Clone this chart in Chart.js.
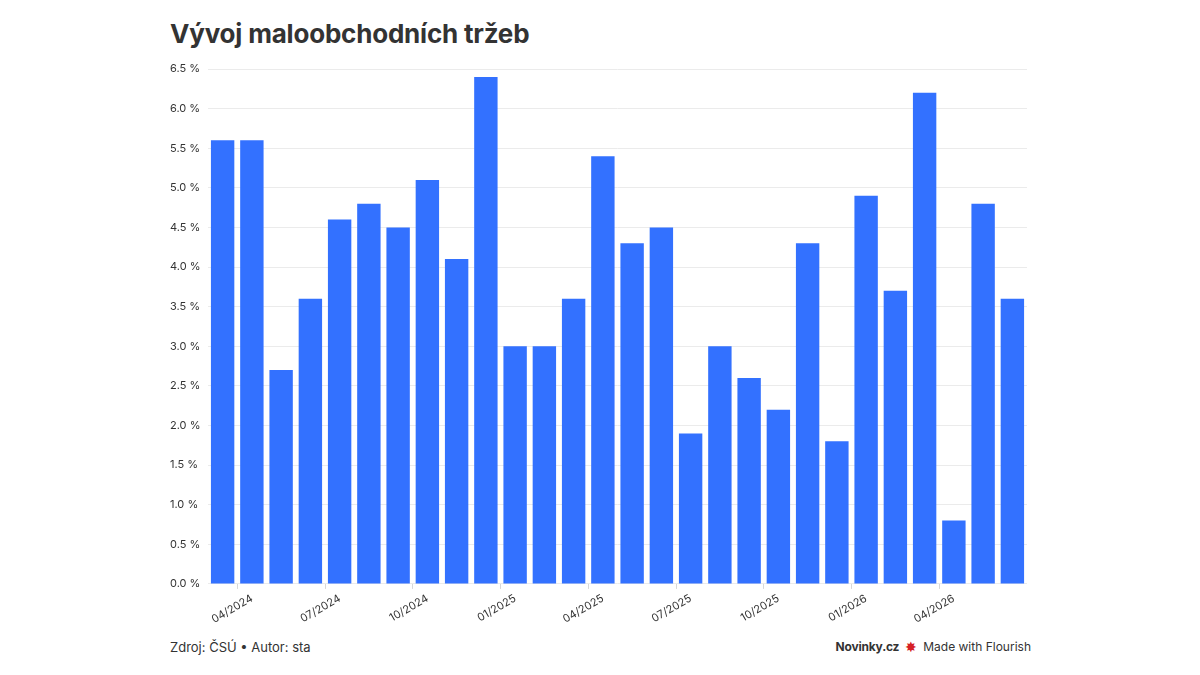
<!DOCTYPE html>
<html lang="cs">
<head>
<meta charset="utf-8">
<script src="https://cdn.jsdelivr.net/npm/chart.js@4.4.1/dist/chart.umd.min.js"></script>
<style>
  html, body { margin: 0; padding: 0; background: #fff; }
  body { width: 1200px; height: 675px; position: relative; overflow: hidden; font-family: Inter, 'Noto Sans', sans-serif; color: #333; }
  h1 { position: absolute; left: 170px; top: 18px; margin: 0; font-size: 26px; font-weight: 700; color: #333; letter-spacing: -0.2px; }
  .chart-wrap { position: absolute; left: 160px; top: 53px; width: 880px; height: 576px; }
  .source { position: absolute; left: 170px; top: 639px; font-size: 13px; color: #333; }
  .brand { position: absolute; right: 169px; top: 639px; font-size: 12px; color: #333; display: flex; align-items: center; gap: 6px; }
  .brand b { font-weight: 700; letter-spacing: -0.2px; }
  .brand .star { color: #d61f26; font-size: 14px; line-height: 1; }
</style>
</head>
<body>
<h1>Vývoj maloobchodních tržeb</h1>
<div class="chart-wrap"><canvas id="chart"></canvas></div>
<div class="source">Zdroj: ČSÚ • Autor: sta</div>
<div class="brand"><b>Novinky.cz</b><span class="star">✸</span><span>Made with Flourish</span></div>
<script>
const MONTHS = [
  '03/2024', '04/2024', '05/2024', '06/2024', '07/2024', '08/2024', '09/2024',
  '10/2024', '11/2024', '12/2024', '01/2025', '02/2025', '03/2025', '04/2025',
  '05/2025', '06/2025', '07/2025', '08/2025', '09/2025', '10/2025', '11/2025',
  '12/2025', '01/2026', '02/2026', '03/2026', '04/2026', '05/2026', '06/2026'
];
const GROWTH = [
  5.6, 5.6, 2.7, 3.6, 4.6, 4.8, 4.5,
  5.1, 4.1, 6.4, 3.0, 3.0, 3.6, 5.4,
  4.3, 4.5, 1.9, 3.0, 2.6, 2.2, 4.3,
  1.8, 4.9, 3.7, 6.2, 0.8, 4.8, 3.6
];
const SHOWN_TICKS = ['04/2024', '07/2024', '10/2024', '01/2025', '04/2025', '07/2025', '10/2025', '01/2026', '04/2026'];

const BAR_COLOR = '#3371ff';
const FONT = 'Inter, "Noto Sans", sans-serif';

const isShown = (i) => SHOWN_TICKS.includes(MONTHS[i]);

new Chart(document.getElementById('chart'), {
  type: 'bar',
  data: {
    labels: MONTHS,
    datasets: [{
      label: 'Meziroční změna',
      data: GROWTH,
      backgroundColor: BAR_COLOR,
      borderWidth: 0,
      categoryPercentage: 1,
      barPercentage: 0.8
    }]
  },
  options: {
    responsive: true,
    maintainAspectRatio: false,
    animation: false,
    layout: { padding: { left: 10, right: 13, top: 16, bottom: 0 } },
    plugins: {
      legend: { display: false },
      tooltip: { enabled: false }
    },
    scales: {
      x: {
        grid: {
          drawOnChartArea: false,
          tickLength: 5,
          color: (ctx) => (isShown(ctx.index) ? '#d8d8d8' : 'rgba(0,0,0,0)')
        },
        border: { display: false },
        ticks: {
          autoSkip: false,
          minRotation: 30,
          maxRotation: 30,
          padding: 3,
          color: '#333',
          font: { family: FONT, size: 11 },
          callback: (value, index) => (isShown(index) ? MONTHS[index] : '')
        }
      },
      y: {
        min: 0,
        max: 6.5,
        border: { display: false },
        grid: { color: '#ebebeb', drawTicks: false },
        afterFit: (scale) => { scale.width = 38; },
        ticks: {
          stepSize: 0.5,
          crossAlign: 'far',
          padding: 8,
          color: '#333',
          font: { family: FONT, size: 11 },
          callback: (v) => `${Number(v).toFixed(1)} %`
        }
      }
    }
  }
});
</script>
</body>
</html>
